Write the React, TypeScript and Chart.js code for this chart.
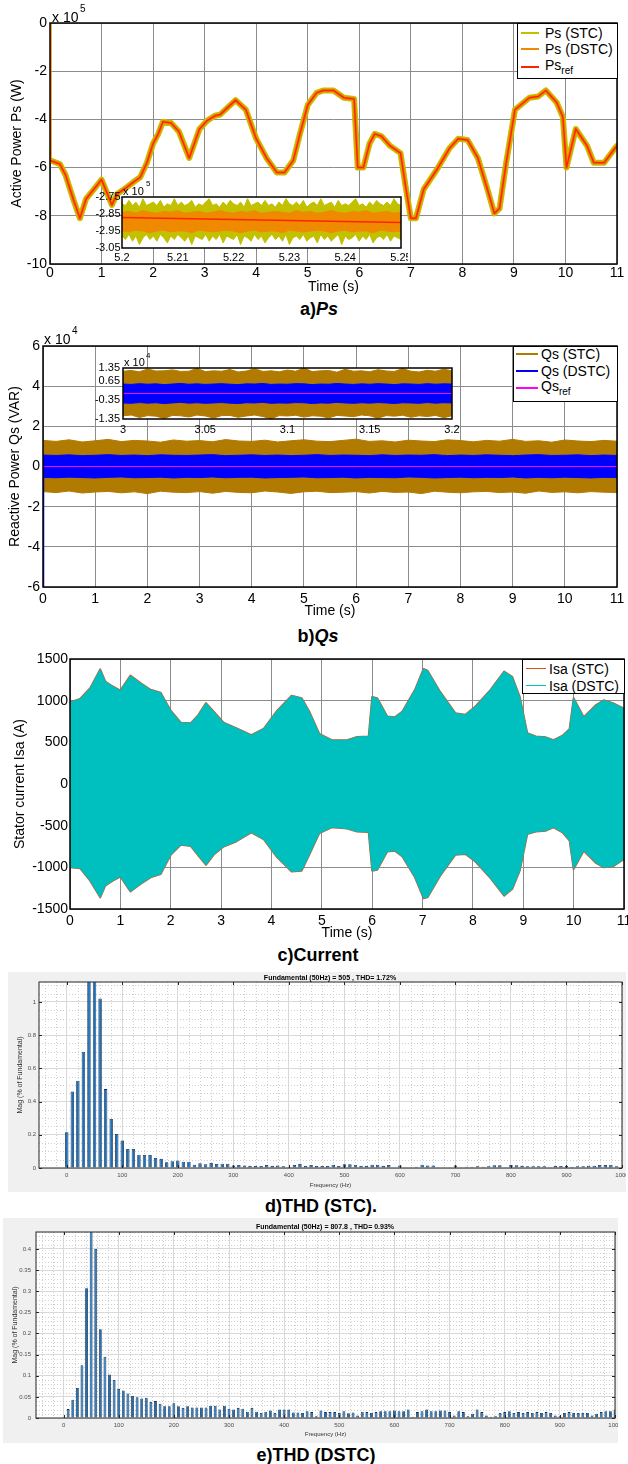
import React, { useEffect, useRef } from "react";
import { Chart, registerables } from "chart.js";

Chart.register(...registerables);

const FONT = '"Liberation Sans", Arial, Helvetica, sans-serif';

// ---------------- a) Ps (x 1e5 W) ----------------
const PS_TIME = [0, 0.19, 0.3, 0.45, 0.58, 0.7, 0.87, 1.0, 1.2, 1.3, 1.5, 1.62, 1.75, 1.88, 2.0, 2.1, 2.19, 2.35, 2.5, 2.7, 2.9, 3.05, 3.2, 3.3, 3.45, 3.6, 3.8, 4.0, 4.2, 4.4, 4.55, 4.72, 4.85, 5.0, 5.17, 5.3, 5.5, 5.7, 5.9, 5.97, 6.08, 6.2, 6.3, 6.43, 6.6, 6.8, 6.9, 7.0, 7.1, 7.25, 7.5, 7.75, 7.92, 8.1, 8.3, 8.5, 8.62, 8.72, 8.85, 9.02, 9.3, 9.47, 9.62, 9.83, 9.95, 10.02, 10.2, 10.42, 10.55, 10.75, 10.96, 11.0];
const PS_VALUE = [-5.7, -5.85, -6.3, -7.3, -8.1, -7.3, -6.85, -6.5, -7.55, -7.1, -6.8, -6.6, -6.4, -5.8, -5.0, -4.6, -4.1, -4.15, -4.5, -5.6, -4.4, -4.05, -3.85, -3.8, -3.5, -3.2, -3.6, -4.8, -5.6, -6.2, -6.2, -5.7, -4.6, -3.4, -2.9, -2.8, -2.8, -3.1, -3.15, -6.0, -6.0, -5.0, -4.6, -4.7, -5.1, -5.4, -6.8, -8.1, -8.1, -6.9, -6.1, -5.2, -4.8, -4.85, -5.6, -7.0, -7.9, -7.7, -5.8, -3.6, -3.1, -3.05, -2.8, -3.3, -3.9, -6.0, -4.4, -5.1, -5.8, -5.8, -5.2, -5.1];
const PS_DSTC_START = 0;
const PS_X_TICKS = [0, 1, 2, 3, 4, 5, 6, 7, 8, 9, 10, 11];
const PS_Y_TICKS = [-10, -8, -6, -4, -2, 0];

// inset a) 5.2 .. 5.25 s
const PSI_T_START = 5.2;
const PSI_T_END = 5.25;
const PSI_STC_UP = [-2.79, -2.8, -2.77, -2.8, -2.78, -2.81, -2.76, -2.8, -2.79, -2.78, -2.8, -2.77, -2.81, -2.79, -2.8, -2.76, -2.8, -2.78, -2.8, -2.79, -2.77, -2.81, -2.79, -2.8, -2.78, -2.76, -2.8, -2.79, -2.81, -2.78, -2.8, -2.77, -2.79, -2.8, -2.78, -2.81, -2.76, -2.8, -2.79, -2.78, -2.8, -2.77, -2.8, -2.79, -2.81, -2.78, -2.8, -2.76, -2.79, -2.8, -2.78, -2.8, -2.77, -2.81, -2.79, -2.78, -2.8, -2.76, -2.8, -2.79, -2.78, -2.81, -2.77, -2.8, -2.79, -2.8, -2.78, -2.76, -2.8, -2.79, -2.81, -2.78, -2.8, -2.77, -2.79, -2.8, -2.78, -2.8, -2.76, -2.79, -2.8];
const PSI_STC_LO = [-2.98, -3.0, -2.97, -3.01, -2.98, -3.03, -2.99, -2.97, -3.0, -2.98, -3.01, -2.97, -2.99, -3.02, -2.98, -3.0, -2.97, -2.99, -3.01, -2.98, -3.03, -2.98, -2.99, -3.0, -2.97, -3.01, -2.98, -3.0, -2.97, -3.02, -2.98, -2.99, -3.0, -2.97, -3.03, -2.98, -2.99, -3.01, -2.97, -3.0, -2.98, -3.02, -2.99, -2.97, -3.0, -2.98, -3.01, -2.97, -3.03, -2.99, -2.98, -3.0, -2.97, -3.01, -2.99, -2.98, -3.02, -2.97, -3.0, -2.98, -3.01, -2.99, -2.97, -3.03, -2.98, -3.0, -2.99, -2.97, -3.01, -2.98, -3.0, -2.97, -3.02, -2.99, -2.98, -3.0, -2.97, -3.01, -2.98, -2.99, -3.0];
const PSI_DSTC_UP = [-2.84, -2.835, -2.845, -2.83, -2.84, -2.845, -2.835, -2.84, -2.83, -2.845, -2.84, -2.835, -2.845, -2.84, -2.83, -2.84, -2.845, -2.835, -2.84, -2.83, -2.845, -2.84, -2.835, -2.84, -2.845, -2.83, -2.84, -2.835, -2.845, -2.84, -2.83, -2.84, -2.845, -2.835, -2.84, -2.83, -2.845, -2.84, -2.835, -2.845, -2.84];
const PSI_DSTC_LO = [-2.95, -2.955, -2.945, -2.95, -2.96, -2.95, -2.945, -2.955, -2.95, -2.95, -2.96, -2.945, -2.95, -2.955, -2.95, -2.945, -2.95, -2.96, -2.95, -2.945, -2.955, -2.95, -2.95, -2.96, -2.945, -2.95, -2.955, -2.95, -2.945, -2.95, -2.96, -2.95, -2.945, -2.955, -2.95, -2.95, -2.96, -2.945, -2.95, -2.955, -2.95];
const PSI_REF_T = [5.2, 5.25];
const PSI_REF_V = [-2.87, -2.9];
const PSI_X_TICKS = [5.2, 5.21, 5.22, 5.23, 5.24, 5.25];
const PSI_Y_TICKS = [-3.05, -2.95, -2.85, -2.75];

// ---------------- b) Qs (x 1e4 VAR) ----------------
const QS_T_START = 0;
const QS_T_END = 11;
const QS_STC_UP = [1.3, 1.25, 1.33, 1.22, 1.28, 1.35, 1.24, 1.3, 1.27, 1.21, 1.32, 1.26, 1.29, 1.23, 1.34, 1.27, 1.25, 1.31, 1.22, 1.28, 1.33, 1.26, 1.24, 1.3, 1.36, 1.25, 1.28, 1.22, 1.31, 1.27, 1.24, 1.33, 1.29, 1.23, 1.3, 1.26, 1.35, 1.25, 1.28, 1.21, 1.32, 1.27, 1.24, 1.3, 1.26];
const QS_STC_LO = [-1.25, -1.3, -1.22, -1.32, -1.27, -1.24, -1.31, -1.26, -1.35, -1.23, -1.28, -1.3, -1.25, -1.33, -1.24, -1.29, -1.31, -1.22, -1.27, -1.34, -1.26, -1.23, -1.3, -1.28, -1.25, -1.32, -1.24, -1.29, -1.27, -1.35, -1.23, -1.28, -1.31, -1.26, -1.24, -1.3, -1.27, -1.33, -1.22, -1.29, -1.26, -1.31, -1.25, -1.28, -1.3];
const QS_DSTC_UP = [0.57, 0.55, 0.58, 0.54, 0.56, 0.59, 0.55, 0.57, 0.54, 0.58, 0.56, 0.55, 0.57, 0.59, 0.54, 0.56, 0.58, 0.55, 0.57, 0.54, 0.56, 0.59, 0.55, 0.57, 0.56, 0.54, 0.58, 0.55, 0.57, 0.56, 0.59, 0.54, 0.57, 0.55, 0.58, 0.56, 0.54, 0.57, 0.59, 0.55, 0.56, 0.58, 0.54, 0.57, 0.55];
const QS_DSTC_LO = [-0.54, -0.56, -0.53, -0.55, -0.57, -0.54, -0.52, -0.56, -0.55, -0.53, -0.57, -0.54, -0.55, -0.52, -0.56, -0.54, -0.53, -0.57, -0.55, -0.54, -0.52, -0.56, -0.55, -0.53, -0.57, -0.54, -0.55, -0.56, -0.52, -0.54, -0.57, -0.55, -0.53, -0.56, -0.54, -0.55, -0.52, -0.57, -0.54, -0.56, -0.53, -0.55, -0.57, -0.54, -0.55];
const QS_REF_T = [0, 11];
const QS_REF_V = [0, 0];
const QS_DSTC_START_T = [0, 0];
const QS_DSTC_START_V = [0.5, -6];
const QS_X_TICKS = [0, 1, 2, 3, 4, 5, 6, 7, 8, 9, 10, 11];
const QS_Y_TICKS = [-6, -4, -2, 0, 2, 4, 6];

// inset b) 3 .. 3.2 s
const QSI_T_START = 3;
const QSI_T_END = 3.2;
const QSI_STC_UP = [1.18, 1.22, 1.15, 1.3, 1.19, 1.2, 1.25, 1.17, 1.18, 1.33, 1.16, 1.2, 1.18, 1.27, 1.14, 1.19, 1.31, 1.17, 1.2, 1.15, 1.24, 1.18, 1.35, 1.16, 1.2, 1.22, 1.13, 1.28, 1.18, 1.2, 1.15, 1.26, 1.19, 1.17, 1.32, 1.18, 1.14, 1.23, 1.18, 1.29, 1.2];
const QSI_STC_LO = [-1.18, -1.14, -1.27, -1.17, -1.2, -1.32, -1.16, -1.18, -1.24, -1.14, -1.19, -1.3, -1.17, -1.16, -1.26, -1.19, -1.14, -1.22, -1.34, -1.17, -1.19, -1.15, -1.25, -1.18, -1.2, -1.29, -1.16, -1.19, -1.23, -1.14, -1.18, -1.31, -1.17, -1.2, -1.15, -1.26, -1.18, -1.22, -1.16, -1.28, -1.18];
const QSI_DSTC_UP = [0.5, 0.48, 0.52, 0.49, 0.51, 0.47, 0.5, 0.53, 0.49, 0.51, 0.48, 0.5, 0.52, 0.49, 0.47, 0.51, 0.5, 0.53, 0.48, 0.5, 0.49, 0.52, 0.51, 0.47, 0.5, 0.49, 0.53, 0.5, 0.48, 0.51, 0.49, 0.52, 0.5, 0.47, 0.51, 0.5, 0.48, 0.52, 0.49, 0.51, 0.5];
const QSI_DSTC_LO = [-0.5, -0.52, -0.48, -0.51, -0.49, -0.53, -0.5, -0.47, -0.51, -0.49, -0.52, -0.5, -0.48, -0.51, -0.53, -0.49, -0.5, -0.47, -0.52, -0.5, -0.51, -0.48, -0.49, -0.53, -0.5, -0.51, -0.47, -0.5, -0.52, -0.49, -0.51, -0.48, -0.5, -0.53, -0.49, -0.5, -0.52, -0.48, -0.51, -0.49, -0.5];
const QSI_REF_T = [3, 3.2];
const QSI_REF_V = [0, 0];
const QSI_X_TICKS = [3, 3.05, 3.1, 3.15, 3.2];
const QSI_Y_TICKS = [-1.35, -0.35, 0.65, 1.35];

// ---------------- c) stator current envelope (A) ----------------
const IS_TIME = [0, 0.2, 0.4, 0.6, 0.7, 0.85, 1.0, 1.2, 1.4, 1.6, 1.8, 2.0, 2.2, 2.4, 2.55, 2.7, 2.85, 3.05, 3.3, 3.6, 3.85, 4.1, 4.4, 4.6, 4.75, 4.95, 5.2, 5.5, 5.7, 5.93, 6.0, 6.1, 6.3, 6.45, 6.6, 6.85, 7.02, 7.1, 7.35, 7.65, 7.85, 8.05, 8.35, 8.62, 8.78, 8.93, 9.08, 9.25, 9.45, 9.6, 9.78, 9.92, 10.0, 10.2, 10.45, 10.6, 10.78, 11.0];
const IS_UPPER = [980, 1020, 1150, 1375, 1230, 1170, 1120, 1300, 1210, 1130, 1095, 880, 735, 730, 830, 970, 870, 735, 670, 585, 665, 870, 1060, 1030, 870, 600, 525, 525, 565, 570, 1045, 1030, 810, 800, 870, 1130, 1380, 1360, 1105, 850, 830, 930, 1130, 1350, 1285, 1045, 610, 570, 560, 525, 580, 660, 1030, 800, 950, 1005, 970, 905];
const IS_LOWER = [-1000, -1010, -1160, -1360, -1220, -1160, -1110, -1290, -1200, -1120, -1080, -850, -730, -745, -860, -970, -850, -750, -690, -580, -665, -870, -1050, -1040, -850, -590, -520, -535, -570, -575, -1040, -1030, -810, -800, -870, -1120, -1370, -1360, -1100, -850, -840, -930, -1130, -1340, -1260, -1040, -600, -570, -560, -520, -580, -680, -1020, -800, -950, -1000, -990, -900];
const IS_X_TICKS = [0, 1, 2, 3, 4, 5, 6, 7, 8, 9, 10, 11];
const IS_Y_TICKS = [-1500, -1000, -500, 0, 500, 1000, 1500];

// ---------------- d) THD STC spectrum (% of fundamental), 10 Hz bins ----------------
const THD_STC_STEP = 10;
const THD_STC = [0.215, 0.46, 0.525, 0.7, 1.5, 1.5, 1.02, 0.475, 0.295, 0.205, 0.165, 0.115, 0.115, 0.08, 0.078, 0.078, 0.06, 0.055, 0.035, 0.04, 0.045, 0.038, 0.038, 0.02, 0.028, 0.022, 0.03, 0.024, 0.026, 0.026, 0.015, 0.018, 0.015, 0.013, 0.013, 0.012, 0.018, 0.013, 0.015, 0.01, 0.004, 0.018, 0.025, 0.012, 0.018, 0.012, 0.012, 0.012, 0.02, 0.012, 0.022, 0.022, 0.02, 0.013, 0.012, 0.02, 0.02, 0.013, 0.018, 0.005, 0.015, 0.004, 0.004, 0.008, 0.02, 0.015, 0.015, 0.002, 0.005, 0.005, 0.015, 0.002, 0.008, 0.008, 0.01, 0.008, 0.01, 0.016, 0.016, 0.002, 0.018, 0.016, 0.013, 0.01, 0.01, 0.01, 0.01, 0.004, 0.012, 0.012, 0.012, 0.008, 0.01, 0.01, 0.014, 0.014, 0.018, 0.018, 0.02, 0.01, 0.002];
const THD_STC_Y_TICKS = [0, 0.2, 0.4, 0.6, 0.8, 1];

// ---------------- e) THD DSTC spectrum, 50/6 Hz bins ----------------
const THD_DSTC_STEP = 50 / 6;
const THD_DSTC = [0.002, 0.021, 0.043, 0.071, 0.125, 0.307, 1, 0.4, 0.21, 0.145, 0.103, 0.09, 0.069, 0.065, 0.058, 0.052, 0.049, 0.046, 0.048, 0.038, 0.04, 0.034, 0.028, 0.028, 0.035, 0.028, 0.024, 0.028, 0.025, 0.025, 0.025, 0.025, 0.029, 0.029, 0.02, 0.029, 0.022, 0.02, 0.024, 0.022, 0.015, 0.024, 0.015, 0.012, 0.015, 0.018, 0.012, 0.02, 0.02, 0.02, 0.013, 0.013, 0.012, 0.016, 0.014, 0.004, 0.018, 0.014, 0.014, 0.014, 0.012, 0.016, 0.011, 0.013, 0.006, 0.015, 0.014, 0.012, 0.014, 0.016, 0.016, 0.016, 0.018, 0.016, 0.016, 0.02, 0.003, 0.014, 0.016, 0.02, 0.016, 0.016, 0.018, 0.018, 0.014, 0.006, 0.016, 0.014, 0.004, 0.01, 0.02, 0.014, 0.006, 0.003, 0.004, 0.012, 0.014, 0.016, 0.012, 0.014, 0.012, 0.014, 0.012, 0.014, 0.012, 0.014, 0.012, 0.006, 0.004, 0.012, 0.014, 0.012, 0.012, 0.012, 0.012, 0.006, 0.01, 0.014, 0.016, 0.016, 0.02];
const THD_DSTC_Y_TICKS = [0, 0.05, 0.1, 0.15, 0.2, 0.25, 0.3, 0.35, 0.4];
const FREQ_TICKS = [0, 100, 200, 300, 400, 500, 600, 700, 800, 900, 1000];

// ---------------- colours ----------------
const C_PS_STC = "#c3c000";
const C_PS_DSTC = "#ef8a00";
const C_PS_REF = "#ff2400";
const C_QS_STC = "#b17a00";
const C_QS_DSTC = "#0000ff";
const C_QS_REF = "#ff00ff";
const C_IS_STC = "#d95319";
const C_IS_DSTC = "#00bfbf";
const C_BAR = "#1f6fb8";
const C_BAR_EDGE = "#0d2f52";
const GRID = "#8c8c8c";

// ---------------- helpers ----------------
type Box = { x: number; y: number; w: number; h: number };
type Plot = { l: number; t: number; r: number; b: number };

const pts = (xs: number[], ys: number[]) => ys.map((y, i) => ({ x: xs[i], y }));
const timeSpan = (t0: number, t1: number, n: number) =>
  Array.from({ length: n }, (_, i) => +(t0 + ((t1 - t0) * i) / (n - 1)).toFixed(7));
const series = (t0: number, t1: number, ys: number[]) => pts(timeSpan(t0, t1, ys.length), ys);
const fmt = (v: number) => String(Number(v.toFixed(4)));
const range = (a: number, b: number, s: number) => {
  const r: number[] = [];
  for (let i = 0; a + i * s <= b + 1e-9; i++) r.push(+(a + i * s).toFixed(6));
  return r;
};
const notIn = (arr: number[], major: number[]) => arr.filter((v) => !major.some((m) => Math.abs(m - v) < 1e-9));

function fixed(box: Box, plot: Plot) {
  return {
    yW: plot.l - box.x,
    xH: box.y + box.h - plot.b,
    padding: { left: 0, top: plot.t - box.y, right: box.x + box.w - plot.r, bottom: 0 },
  };
}

function axis(o: any) {
  return {
    type: "linear",
    bounds: "data",
    min: o.min,
    max: o.max,
    offset: false,
    afterBuildTicks: (s: any) => {
      s.ticks = o.ticks.map((v: number) => ({ value: v }));
    },
    afterFit: (s: any) => {
      if (o.fitW !== undefined) s.width = o.fitW;
      if (o.fitH !== undefined) s.height = o.fitH;
      s.paddingLeft = 0;
      s.paddingRight = 0;
      s.paddingTop = 0;
      s.paddingBottom = 0;
    },
    ticks: {
      autoSkip: false,
      maxRotation: 0,
      minRotation: 0,
      padding: o.pad,
      color: o.color || "#000",
      font: { family: FONT, size: o.size },
      callback: (v: any) => fmt(Number(v)),
    },
    grid: o.grid
      ? { display: true, color: o.grid, lineWidth: 1, drawTicks: false, offset: false }
      : { display: false, drawTicks: false },
    border: { display: false },
    title: o.title
      ? {
          display: true,
          text: o.title,
          color: o.titleColor || "#000",
          font: { family: FONT, size: o.titleSize ?? o.size },
          padding: o.titlePad,
        }
      : { display: false },
  };
}

const baseOptions = (f: any, scales: any) => ({
  responsive: false,
  maintainAspectRatio: false,
  animation: false,
  devicePixelRatio: 1,
  events: [],
  layout: { padding: f.padding },
  plugins: { legend: { display: false }, tooltip: { enabled: false }, title: { display: false } },
  scales,
});

const ln = (data: any[], color: string, width: number, extra: any = {}) => ({
  data,
  borderColor: color,
  backgroundColor: color,
  borderWidth: width,
  pointRadius: 0,
  pointHoverRadius: 0,
  tension: 0,
  fill: false,
  borderJoinStyle: "round",
  borderCapStyle: "round",
  clip: 0,
  ...extra,
});

function framePlugin(o: any) {
  return {
    id: "frameP",
    beforeDraw(chart: any) {
      const { ctx, chartArea: a } = chart;
      if (o.bg) {
        ctx.save();
        ctx.fillStyle = o.bg;
        ctx.fillRect(a.left, a.top, a.right - a.left, a.bottom - a.top);
        ctx.restore();
      }
    },
    beforeDatasetsDraw(chart: any) {
      if (!o.minorX && !o.minorY) return;
      const { ctx, chartArea: a, scales } = chart;
      ctx.save();
      ctx.strokeStyle = o.minorColor || "#ccc";
      ctx.lineWidth = 1;
      ctx.setLineDash([1, 2]);
      for (const v of o.minorX || []) {
        const p = Math.round(scales.x.getPixelForValue(v)) + 0.5;
        if (p <= a.left || p >= a.right) continue;
        ctx.beginPath();
        ctx.moveTo(p, a.top);
        ctx.lineTo(p, a.bottom);
        ctx.stroke();
      }
      for (const v of o.minorY || []) {
        const p = Math.round(scales.y.getPixelForValue(v)) + 0.5;
        if (p <= a.top || p >= a.bottom) continue;
        ctx.beginPath();
        ctx.moveTo(a.left, p);
        ctx.lineTo(a.right, p);
        ctx.stroke();
      }
      ctx.restore();
    },
    afterDatasetsDraw(chart: any) {
      const { ctx, chartArea: a, scales } = chart;
      ctx.save();
      ctx.strokeStyle = o.stroke;
      ctx.lineWidth = o.lw;
      ctx.strokeRect(a.left, a.top, a.right - a.left, a.bottom - a.top);
      if (o.tickLen) {
        ctx.lineWidth = 1;
        const L = o.tickLen;
        for (const v of o.xt || []) {
          const p = Math.round(scales.x.getPixelForValue(v)) + 0.5;
          ctx.beginPath();
          ctx.moveTo(p, a.top);
          ctx.lineTo(p, a.top + L);
          ctx.moveTo(p, a.bottom);
          ctx.lineTo(p, a.bottom - L);
          ctx.stroke();
        }
        for (const v of o.yt || []) {
          const p = Math.round(scales.y.getPixelForValue(v)) + 0.5;
          ctx.beginPath();
          ctx.moveTo(a.left, p);
          ctx.lineTo(a.left + L, p);
          ctx.moveTo(a.right, p);
          ctx.lineTo(a.right - L, p);
          ctx.stroke();
        }
      }
      ctx.restore();
    },
  };
}

// ---------------- layout boxes ----------------
const BOX_A: Box = { x: 0, y: 0, w: 628, h: 296 };
const PLOT_A: Plot = { l: 50, t: 23, r: 617, b: 264 };
const BOX_IA: Box = { x: 86, y: 184, w: 322, h: 78 };
const PLOT_IA: Plot = { l: 122, t: 197, r: 401, b: 248 };
const BOX_B: Box = { x: 0, y: 318, w: 628, h: 302 };
const PLOT_B: Plot = { l: 43, t: 346, r: 617, b: 587 };
const BOX_IB: Box = { x: 84, y: 360, w: 376, h: 80 };
const PLOT_IB: Plot = { l: 123, t: 368, r: 452, b: 419 };
const BOX_C: Box = { x: 0, y: 645, w: 628, h: 300 };
const PLOT_C: Plot = { l: 70, t: 659, r: 624, b: 909 };
const BOX_D: Box = { x: 8, y: 972, w: 618, h: 220 };
const PLOT_D: Plot = { l: 39, t: 982, r: 622, b: 1168 };
const BOX_E: Box = { x: 3, y: 1218, w: 615, h: 225 };
const PLOT_E: Plot = { l: 36, t: 1232, r: 615, b: 1418 };

// ---------------- chart builders ----------------
function buildA() {
  const f = fixed(BOX_A, PLOT_A);
  const main = pts(PS_TIME, PS_VALUE);
  return {
    type: "line",
    data: {
      datasets: [
        ln(main, C_PS_REF, 1.5),
        ln([{ x: 0, y: PS_DSTC_START }, ...main], C_PS_DSTC, 3.5),
        ln(main, C_PS_STC, 6),
      ],
    },
    options: baseOptions(f, {
      x: axis({ min: 0, max: 11, ticks: PS_X_TICKS, size: 14, pad: 1, grid: GRID, title: "Time (s)", titlePad: { top: 0, bottom: 0.6 }, fitH: f.xH }),
      y: axis({ min: -10, max: 0, ticks: PS_Y_TICKS, size: 14, pad: 3, grid: GRID, title: "Active Power Ps (W)", titlePad: { top: 8.6, bottom: 0 }, fitW: f.yW }),
    }),
    plugins: [framePlugin({ bg: "#fff", stroke: "#000", lw: 1.5 })],
  };
}

function buildIA() {
  const f = fixed(BOX_IA, PLOT_IA);
  return {
    type: "line",
    data: {
      datasets: [
        ln(pts(PSI_REF_T, PSI_REF_V), C_PS_REF, 1.5),
        ln(series(PSI_T_START, PSI_T_END, PSI_DSTC_UP), C_PS_DSTC, 1, { borderJoinStyle: "miter" }),
        ln(series(PSI_T_START, PSI_T_END, PSI_DSTC_LO), C_PS_DSTC, 1, { fill: 1, borderJoinStyle: "miter" }),
        ln(series(PSI_T_START, PSI_T_END, PSI_STC_UP), C_PS_STC, 1, { borderJoinStyle: "miter" }),
        ln(series(PSI_T_START, PSI_T_END, PSI_STC_LO), C_PS_STC, 1, { fill: 3, borderJoinStyle: "miter" }),
      ],
    },
    options: baseOptions(f, {
      x: axis({ min: 5.2, max: 5.25, ticks: PSI_X_TICKS, size: 11, pad: 3, fitH: f.xH }),
      y: axis({ min: -3.05, max: -2.75, ticks: PSI_Y_TICKS, size: 11, pad: 1.5, fitW: f.yW }),
    }),
    plugins: [framePlugin({ bg: "#fff", stroke: "#000", lw: 1.5 })],
  };
}

function buildB() {
  const f = fixed(BOX_B, PLOT_B);
  return {
    type: "line",
    data: {
      datasets: [
        ln(pts(QS_REF_T, QS_REF_V), C_QS_REF, 1.2),
        ln(pts(QS_DSTC_START_T, QS_DSTC_START_V), C_QS_DSTC, 2.5),
        ln(series(QS_T_START, QS_T_END, QS_DSTC_UP), C_QS_DSTC, 1),
        ln(series(QS_T_START, QS_T_END, QS_DSTC_LO), C_QS_DSTC, 1, { fill: 2 }),
        ln(series(QS_T_START, QS_T_END, QS_STC_UP), C_QS_STC, 1),
        ln(series(QS_T_START, QS_T_END, QS_STC_LO), C_QS_STC, 1, { fill: 4 }),
      ],
    },
    options: baseOptions(f, {
      x: axis({ min: 0, max: 11, ticks: QS_X_TICKS, size: 14, pad: 4, grid: GRID, title: "Time (s)", titlePad: { top: 0, bottom: 0 }, fitH: f.xH }),
      y: axis({ min: -6, max: 6, ticks: QS_Y_TICKS, size: 14, pad: 3, grid: GRID, title: "Reactive Power Qs (VAR)", titlePad: { top: 6.6, bottom: 0 }, fitW: f.yW }),
    }),
    plugins: [framePlugin({ bg: "#fff", stroke: "#000", lw: 1.5 })],
  };
}

function buildIB() {
  const f = fixed(BOX_IB, PLOT_IB);
  return {
    type: "line",
    data: {
      datasets: [
        ln(pts(QSI_REF_T, QSI_REF_V), C_QS_REF, 1.2),
        ln(series(QSI_T_START, QSI_T_END, QSI_DSTC_UP), C_QS_DSTC, 1, { borderJoinStyle: "miter" }),
        ln(series(QSI_T_START, QSI_T_END, QSI_DSTC_LO), C_QS_DSTC, 1, { fill: 1, borderJoinStyle: "miter" }),
        ln(series(QSI_T_START, QSI_T_END, QSI_STC_UP), C_QS_STC, 1, { borderJoinStyle: "miter" }),
        ln(series(QSI_T_START, QSI_T_END, QSI_STC_LO), C_QS_STC, 1, { fill: 3, borderJoinStyle: "miter" }),
      ],
    },
    options: baseOptions(f, {
      x: axis({ min: 3, max: 3.2, ticks: QSI_X_TICKS, size: 11, pad: 4, fitH: f.xH }),
      y: axis({ min: -1.35, max: 1.35, ticks: QSI_Y_TICKS, size: 11, pad: 3, fitW: f.yW }),
    }),
    plugins: [framePlugin({ bg: "#fff", stroke: "#000", lw: 1.5 })],
  };
}

function buildC() {
  const f = fixed(BOX_C, PLOT_C);
  return {
    type: "line",
    data: {
      datasets: [
        ln(pts(IS_TIME, IS_UPPER), C_IS_DSTC, 1, { borderJoinStyle: "miter" }),
        ln(pts(IS_TIME, IS_LOWER), C_IS_DSTC, 1, { fill: 0, borderJoinStyle: "miter" }),
        ln(pts(IS_TIME, IS_UPPER), C_IS_STC, 2),
        ln(pts(IS_TIME, IS_LOWER), C_IS_STC, 2),
      ],
    },
    options: baseOptions(f, {
      x: axis({ min: 0, max: 11, ticks: IS_X_TICKS, size: 14, pad: 4, grid: GRID, title: "Time (s)", titlePad: { top: 0, bottom: 3.6 }, fitH: f.xH }),
      y: axis({ min: -1500, max: 1500, ticks: IS_Y_TICKS, size: 14, pad: 2, grid: GRID, title: "Stator current Isa (A)", titlePad: { top: 11.6, bottom: 0 }, fitW: f.yW }),
    }),
    plugins: [framePlugin({ bg: "#fff", stroke: "#000", lw: 1.5 })],
  };
}

function buildBars(box: Box, plot: Plot, values: number[], step: number, yMax: number, yTicks: number[], minorYStep: number, yPad: number, yTitlePad: number, xPad: number, xTitlePad: number) {
  const f = fixed(box, plot);
  const freqs = values.map((_, i) => +(i * step).toFixed(6));
  const minorX = notIn(range(-40, 1000, 20), FREQ_TICKS);
  const minorY = notIn(range(0, yMax, minorYStep), yTicks);
  return {
    type: "bar",
    data: {
      datasets: [
        {
          data: pts(freqs, values),
          backgroundColor: C_BAR,
          borderColor: C_BAR_EDGE,
          borderWidth: 0.8,
          barPercentage: 0.62,
          categoryPercentage: 1,
          clip: 0,
        },
      ],
    },
    options: baseOptions(f, {
      x: axis({ min: -50, max: 1000, ticks: FREQ_TICKS, size: 6, pad: xPad, color: "#4d4d4d", grid: "#d9d9d9", title: "Frequency (Hz)", titleColor: "#333", titlePad: { top: 0, bottom: xTitlePad }, fitH: f.xH }),
      y: axis({ min: 0, max: yMax, ticks: yTicks, size: 6, pad: yPad, color: "#4d4d4d", grid: "#d9d9d9", title: "Mag (% of Fundamental)", titleSize: 7, titleColor: "#333", titlePad: { top: yTitlePad, bottom: 0 }, fitW: f.yW }),
    }),
    plugins: [
      framePlugin({ bg: "#fff", stroke: "#262626", lw: 1, minorX, minorY, minorColor: "#cfcfcf", tickLen: 3, xt: FREQ_TICKS, yt: yTicks }),
    ],
  };
}

const buildD = () => buildBars(BOX_D, PLOT_D, THD_STC, THD_STC_STEP, 1.12, THD_STC_Y_TICKS, 0.05, 3, 8.3, 4, 2.9);
const buildE = () => buildBars(BOX_E, PLOT_E, THD_DSTC, THD_DSTC_STEP, 0.44, THD_DSTC_Y_TICKS, 0.01, 5, 7.8, 3.5, 5.4);

// ---------------- React components ----------------
function ChartBox({ box, build }: { box: Box; build: () => any }) {
  const ref = useRef<HTMLCanvasElement | null>(null);
  useEffect(() => {
    if (!ref.current) return;
    const chart = new Chart(ref.current, build());
    return () => chart.destroy();
  }, []);
  return (
    <canvas
      ref={ref}
      width={box.w}
      height={box.h}
      style={{ position: "absolute", left: box.x, top: box.y, width: box.w, height: box.h }}
    />
  );
}

function Txt(p: any) {
  const align = p.align || "center";
  const tx = align === "center" ? "-50%" : align === "right" ? "-100%" : "0";
  return (
    <div
      style={{
        position: "absolute",
        left: p.x,
        top: p.y,
        transform: `translate(${tx},-50%)`,
        fontFamily: FONT,
        fontSize: p.size,
        fontWeight: p.bold ? "bold" : "normal",
        color: p.color || "#000",
        whiteSpace: "nowrap",
        lineHeight: 1,
      }}
    >
      {p.children}
    </div>
  );
}

function LegendBox(p: any) {
  return (
    <div
      style={{
        position: "absolute",
        left: p.x,
        top: p.y,
        width: p.w,
        height: p.h,
        background: "#fff",
        border: "1.5px solid #000",
        boxSizing: "border-box",
      }}
    >
      {p.items.map((it: any, i: number) => (
        <React.Fragment key={i}>
          <div style={{ position: "absolute", left: p.lx0, top: it.ly - 0.75, width: p.lx1 - p.lx0, height: 1.5, background: it.color }} />
          <div
            style={{
              position: "absolute",
              left: p.tx,
              top: it.cy,
              transform: "translateY(-50%)",
              fontFamily: FONT,
              fontSize: p.size,
              lineHeight: 1,
              whiteSpace: "nowrap",
            }}
          >
            {it.label}
          </div>
        </React.Fragment>
      ))}
    </div>
  );
}

const Sub = ({ children }: any) => (
  <span style={{ fontSize: 10, position: "relative", top: 4 }}>{children}</span>
);

export default function App() {
  return (
    <div style={{ position: "absolute", left: 0, top: 0, width: 628, height: 1464, overflow: "hidden", background: "#fff" }}>
      {/* a) */}
      <ChartBox box={BOX_A} build={buildA} />
      <ChartBox box={BOX_IA} build={buildIA} />
      <Txt x={52} y={17} size={14} align="left">x 10</Txt>
      <Txt x={80} y={9} size={10} align="left">5</Txt>
      <Txt x={123} y={191} size={11} align="left">x 10</Txt>
      <Txt x={146} y={184} size={8} align="left">5</Txt>
      <LegendBox
        x={517} y={23} w={101} h={56} size={14} lx0={3} lx1={21} tx={27}
        items={[
          { color: C_PS_STC, label: "Ps (STC)", cy: 9, ly: 9 },
          { color: C_PS_DSTC, label: "Ps (DSTC)", cy: 25, ly: 25 },
          { color: C_PS_REF, label: <span>Ps<Sub>ref</Sub></span>, cy: 41, ly: 43 },
        ]}
      />
      <Txt x={319} y={309} size={18} bold>a)<i>Ps</i></Txt>

      {/* b) */}
      <ChartBox box={BOX_B} build={buildB} />
      <ChartBox box={BOX_IB} build={buildIB} />
      <Txt x={44} y={339} size={14} align="left">x 10</Txt>
      <Txt x={72} y={331} size={10} align="left">4</Txt>
      <Txt x={124} y={362} size={11} align="left">x 10</Txt>
      <Txt x={146} y={356} size={8} align="left">4</Txt>
      <LegendBox
        x={513} y={346} w={105} h={56} size={14} lx0={2} lx1={24} tx={27}
        items={[
          { color: C_QS_STC, label: "Qs (STC)", cy: 7, ly: 7 },
          { color: C_QS_DSTC, label: "Qs (DSTC)", cy: 24, ly: 24 },
          { color: C_QS_REF, label: <span>Qs<Sub>ref</Sub></span>, cy: 39, ly: 41 },
        ]}
      />
      <Txt x={318} y={636} size={18} bold>b)<i>Qs</i></Txt>

      {/* c) */}
      <ChartBox box={BOX_C} build={buildC} />
      <LegendBox
        x={522} y={659} w={103} h={35} size={14} lx0={3} lx1={23} tx={26}
        items={[
          { color: C_IS_STC, label: "Isa (STC)", cy: 8.5, ly: 8.5 },
          { color: C_IS_DSTC, label: "Isa (DSTC)", cy: 25.5, ly: 25.5 },
        ]}
      />
      <Txt x={318} y={955} size={18} bold>c)Current</Txt>

      {/* d) */}
      <div style={{ position: "absolute", left: BOX_D.x, top: BOX_D.y, width: BOX_D.w, height: BOX_D.h, background: "#f0f0f0" }} />
      <ChartBox box={BOX_D} build={buildD} />
      <Txt x={330} y={977} size={7} bold>Fundamental (50Hz) = 505 , THD= 1.72%</Txt>
      <Txt x={321} y={1206} size={18} bold>d)THD (STC).</Txt>

      {/* e) */}
      <div style={{ position: "absolute", left: BOX_E.x, top: BOX_E.y, width: BOX_E.w, height: BOX_E.h, background: "#f0f0f0" }} />
      <ChartBox box={BOX_E} build={buildE} />
      <Txt x={325} y={1226} size={7} bold>Fundamental (50Hz) = 807.8 , THD= 0.93%</Txt>
      <Txt x={316} y={1455} size={18} bold>e)THD (DSTC)</Txt>
    </div>
  );
}
